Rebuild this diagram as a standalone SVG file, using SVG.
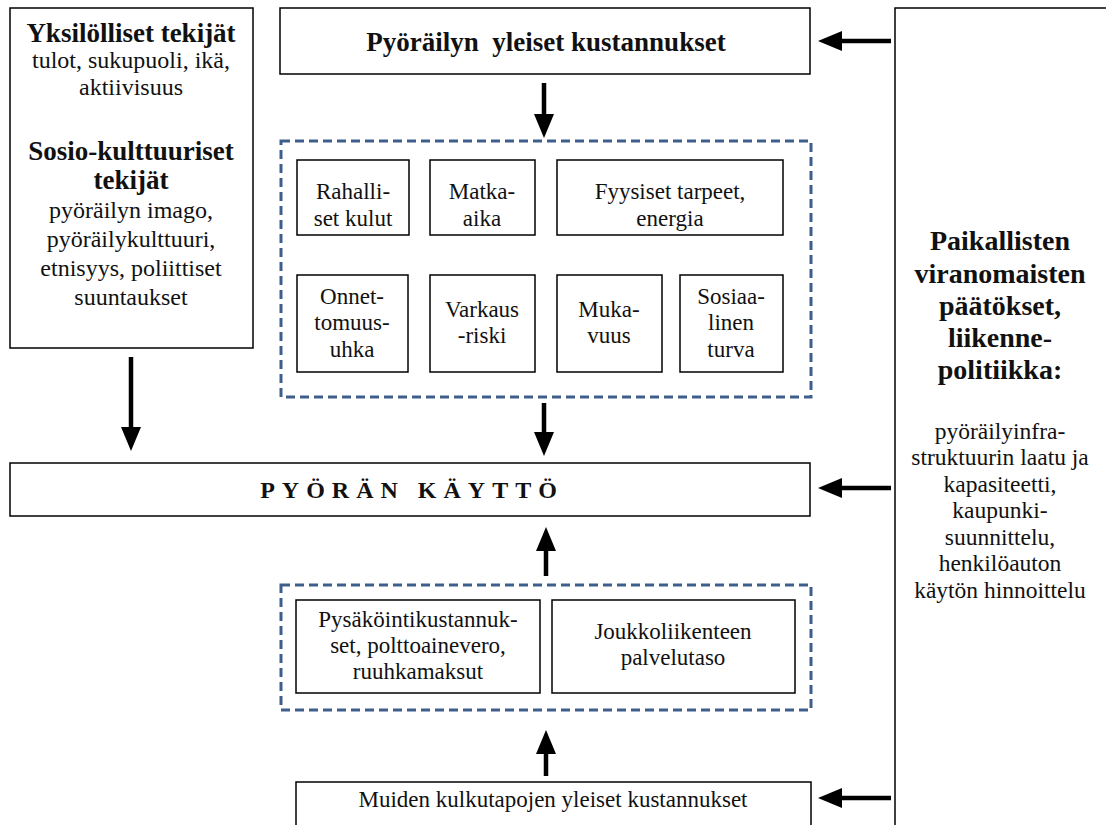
<svg xmlns="http://www.w3.org/2000/svg" width="1106" height="825" viewBox="0 0 1106 825">
  <style>
    .box { fill: #fff; stroke: #000; stroke-width: 1.5; }
    .group { fill: none; stroke: #3e5f8c; stroke-width: 3; stroke-dasharray: 9 5; }
    .conn { stroke: #000; stroke-width: 4.5; fill: none; }
    text { font-family: "Liberation Serif", "Times New Roman", serif; fill: #111; text-anchor: middle; }
    .t { font-size: 23px; }
    .tl { font-size: 24px; }
    .tr { font-size: 23.5px; }
    .b { font-size: 27px; font-weight: bold; }
    .br { font-size: 28px; font-weight: bold; }
    .big { font-size: 24px; font-weight: bold; letter-spacing: 7px; }
  </style>
  <defs>
    <marker id="head" viewBox="0 0 24 20" refX="6" refY="10" markerWidth="24" markerHeight="20" markerUnits="userSpaceOnUse" orient="auto">
      <path d="M0,0 L24,10 L0,20 z" fill="#000"/>
    </marker>
  </defs>
  <rect width="1106" height="825" fill="#fff"/>

  <!-- individual and socio-cultural factors -->
  <g id="factors">
    <rect class="box" x="10" y="8" width="243" height="340"/>
    <text class="b" x="131" y="42">Yksilölliset tekijät</text>
    <text class="tl" x="131" y="68">tulot, sukupuoli, ikä,</text>
    <text class="tl" x="131" y="95">aktiivisuus</text>
    <text class="b" x="131" y="160">Sosio-kulttuuriset</text>
    <text class="b" x="131" y="189">tekijät</text>
    <text class="tl" x="131" y="218">pyöräilyn imago,</text>
    <text class="tl" x="131" y="247">pyöräilykulttuuri,</text>
    <text class="tl" x="131" y="276">etnisyys, poliittiset</text>
    <text class="tl" x="131" y="305">suuntaukset</text>
  </g>

  <!-- general cycling costs -->
  <g id="cycling-costs">
    <rect class="box" x="280" y="8" width="530" height="66"/>
    <text class="b" x="546" y="51" xml:space="preserve">Pyöräilyn  yleiset kustannukset</text>
  </g>

  <!-- local authority decisions -->
  <g id="policy">
    <rect class="box" x="895" y="8" width="240" height="840"/>
    <text class="br" x="1000" y="250">Paikallisten</text>
    <text class="br" x="1000" y="283">viranomaisten</text>
    <text class="br" x="1000" y="315">päätökset,</text>
    <text class="br" x="1000" y="347">liikenne-</text>
    <text class="br" x="1000" y="379">politiikka:</text>
    <text class="tr" x="1000" y="439">pyöräilyinfra-</text>
    <text class="tr" x="1000" y="465">struktuurin laatu ja</text>
    <text class="tr" x="1000" y="492">kapasiteetti,</text>
    <text class="tr" x="1000" y="518">kaupunki-</text>
    <text class="tr" x="1000" y="545">suunnittelu,</text>
    <text class="tr" x="1000" y="571">henkilöauton</text>
    <text class="tr" x="1000" y="598">käytön hinnoittelu</text>
  </g>

  <!-- cost components of cycling -->
  <g id="cycling-components">
    <rect class="group" x="281" y="141" width="530" height="256"/>
    <g id="monetary">
      <rect class="box" x="297" y="160" width="112" height="75"/>
      <text class="t" x="353" y="199">Rahalli-</text>
      <text class="t" x="353" y="226">set kulut</text>
    </g>
    <g id="travel-time">
      <rect class="box" x="430" y="160" width="105" height="75"/>
      <text class="t" x="482" y="199">Matka-</text>
      <text class="t" x="482" y="226">aika</text>
    </g>
    <g id="physical">
      <rect class="box" x="557" y="160" width="226" height="75"/>
      <text class="t" x="670" y="199">Fyysiset tarpeet,</text>
      <text class="t" x="670" y="226">energia</text>
    </g>
    <g id="accident">
      <rect class="box" x="297" y="275" width="111" height="97"/>
      <text class="t" x="352" y="304">Onnet-</text>
      <text class="t" x="352" y="330">tomuus-</text>
      <text class="t" x="352" y="357">uhka</text>
    </g>
    <g id="theft">
      <rect class="box" x="430" y="275" width="105" height="97"/>
      <text class="t" x="482" y="317">Varkaus</text>
      <text class="t" x="482" y="343">-riski</text>
    </g>
    <g id="comfort">
      <rect class="box" x="557" y="275" width="105" height="97"/>
      <text class="t" x="609" y="317">Muka-</text>
      <text class="t" x="609" y="343">vuus</text>
    </g>
    <g id="social-safety">
      <rect class="box" x="680" y="275" width="103" height="97"/>
      <text class="t" x="731" y="304">Sosiaa-</text>
      <text class="t" x="731" y="330">linen</text>
      <text class="t" x="731" y="357">turva</text>
    </g>
  </g>

  <!-- bicycle use -->
  <g id="bicycle-use">
    <rect class="box" x="10" y="463" width="800" height="53"/>
    <text class="big" x="412" y="498">PYÖRÄN KÄYTTÖ</text>
  </g>

  <!-- other modes' factors -->
  <g id="other-components">
    <rect class="group" x="281" y="585" width="530" height="125"/>
    <g id="car-charges">
      <rect class="box" x="296" y="600" width="244" height="93"/>
      <text class="t" x="418" y="627">Pysäköintikustannuk-</text>
      <text class="t" x="418" y="653">set, polttoainevero,</text>
      <text class="t" x="418" y="679">ruuhkamaksut</text>
    </g>
    <g id="transit">
      <rect class="box" x="552" y="600" width="243" height="93"/>
      <text class="t" x="673" y="639">Joukkoliikenteen</text>
      <text class="t" x="673" y="665">palvelutaso</text>
    </g>
  </g>

  <!-- general costs of other modes -->
  <g id="other-costs">
    <rect class="box" x="296" y="782" width="515" height="80"/>
    <text class="t" x="553" y="807">Muiden kulkutapojen yleiset kustannukset</text>
  </g>

  <!-- connectors: each line stops 18px short of its arrow tip -->
  <g id="connectors">
    <line class="conn" x1="891" y1="41" x2="836" y2="41" marker-end="url(#head)"/>
    <line class="conn" x1="891" y1="488" x2="836" y2="488" marker-end="url(#head)"/>
    <line class="conn" x1="891" y1="798" x2="836" y2="798" marker-end="url(#head)"/>
    <line class="conn" x1="544" y1="83" x2="544" y2="120" marker-end="url(#head)"/>
    <line class="conn" x1="544" y1="403" x2="544" y2="438" marker-end="url(#head)"/>
    <line class="conn" x1="131" y1="357" x2="131" y2="433" marker-end="url(#head)"/>
    <line class="conn" x1="546" y1="576" x2="546" y2="545" marker-end="url(#head)"/>
    <line class="conn" x1="546" y1="776" x2="546" y2="748" marker-end="url(#head)"/>
  </g>
</svg>
